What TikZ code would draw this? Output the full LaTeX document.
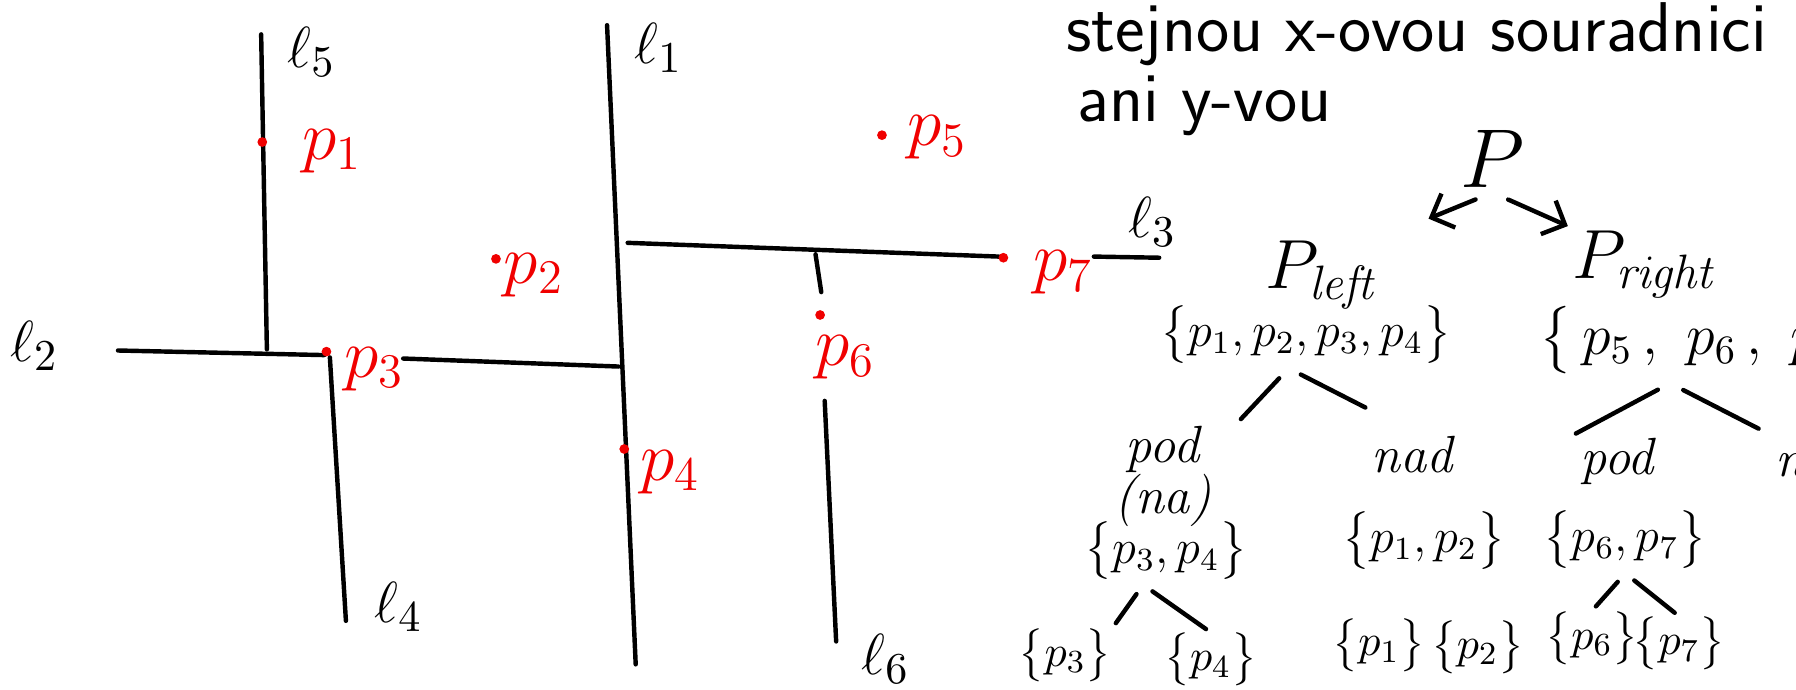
\documentclass[tikz,border=0pt]{standalone}
\usepackage{amsmath,amssymb}
\usetikzlibrary{positioning,arrows.meta,calc}
\definecolor{ink}{RGB}{0,0,0}
\definecolor{ptred}{RGB}{240,0,0}
\tikzset{
  seg/.style={draw=ink, line width=1.1pt, line cap=round},
  pdot/.style={circle, fill=ptred, inner sep=0pt, minimum size=0.85mm},
  plbl/.style={text=ptred, font=\fontsize{17}{17}\selectfont, inner sep=1pt},
  llbl/.style={text=ink, font=\fontsize{15}{15}\selectfont, inner sep=1pt},
  txt/.style={font=\sffamily\fontsize{17.5}{20}\selectfont, anchor=west, inner sep=0pt},
  tlbl/.style={font=\fontsize{17}{17}\selectfont, inner sep=1pt},
  pset/.style={font=\fontsize{12}{12}\selectfont, inner sep=1pt},
  leaf/.style={font=\fontsize{11}{11}\selectfont, inner sep=0pt},
  word/.style={font=\itshape\fontsize{13}{13}\selectfont, align=center, inner sep=1pt},
  arr/.style={-{Straight Barb[length=1.6mm, width=3.2mm]}, line width=1.1pt, line cap=round},
  tedge/.style={line width=1.1pt, line cap=round},
}
\begin{document}
\begin{tikzpicture}[x=0.1mm, y=-0.1mm]
  \useasboundingbox (0,0) rectangle (1568,602);

  % ---- lines of the subdivision ---------------------------------------
  \draw[seg] (228,30) -- (233,305);            % l5
  \draw[seg] (103,306) -- (283,310);           % l2
  \draw[seg] (352,313) -- (540,320);
  \draw[seg] (288,312) -- (302,542);           % l4
  \draw[seg] (530,22) -- (555,580);            % l1
  \draw[seg] (548,212) -- (872,224);           % l3
  \draw[seg] (955,224) -- (1012,225);
  \draw[seg] (712,222) -- (717,255);           % l6
  \draw[seg] (720,350) -- (730,560);

  \node[llbl] (l5) at (272,45)  {$\ell_5$};
  \node[llbl] (l1) at (575,42)  {$\ell_1$};
  \node[llbl] (l2) at (30,302)  {$\ell_2$};
  \node[llbl] (l3) at (1006,194) {$\ell_3$};
  \node[llbl] (l4) at (348,530) {$\ell_4$};
  \node[llbl] (l6) at (773,575) {$\ell_6$};

  % ---- points ---------------------------------------------------------
  \node[pdot] (d1) at (229,124) {};
  \node[pdot] (d2) at (433,226) {};
  \node[pdot] (d3) at (285,307) {};
  \node[pdot] (d4) at (545,392) {};
  \node[pdot] (d5) at (770,118) {};
  \node[pdot] (d6) at (716,275) {};
  \node[pdot] (d7) at (876,225) {};
  \node[plbl] (p1) at (290,132) {$p_1$};
  \node[plbl] (p2) at (466,240) {$p_2$};
  \node[plbl] (p3) at (327,322) {$p_3$};
  \node[plbl] (p4) at (585,412) {$p_4$};
  \node[plbl] (p5) at (818,120) {$p_5$};
  \node[plbl] (p6) at (738,312) {$p_6$};
  \node[plbl] (p7) at (928,238) {$p_7$};

  % ---- note -----------------------------------------------------------
  \node[txt] (n1) at (930,30) {stejnou x-ovou souradnici};
  \node[txt] (n2) at (940,92) {ani y-vou};

  % ---- tree -----------------------------------------------------------
  \node[tlbl, font=\fontsize{20}{20}\selectfont] (P) at (1303,139) {$P$};
  \node[tlbl] (Pl) at (1155,240) {$P_{\mathit{left}}$};
  \node[tlbl] (Pr) at (1437,231) {$P_{\mathit{right}}$};
  \node[pset] (lset) at (1140,292) {$\bigl\{p_1,p_2,p_3,p_4\bigr\}$};
  \node[pset, font=\fontsize{14}{14}\selectfont, anchor=west] (rset) at (1340,297)
    {$\bigl\{\,p_5\,,\ p_6\,,\ p_7\,\bigr\}$};
  \node[word, font=\itshape\fontsize{13}{12.5}\selectfont] (podl) at (1015,416) {pod\\(na)};
  \node[word] (nadl) at (1233,397) {nad};
  \node[word] (podr) at (1412,403) {pod};
  \node[word, anchor=west] (nadr) at (1546,400) {nad};
  \node[pset] (s34) at (1018,481) {$\bigl\{p_3,p_4\bigr\}$};
  \node[pset] (s12) at (1243,472) {$\bigl\{p_1,p_2\bigr\}$};
  \node[pset] (s67) at (1419,471) {$\bigl\{p_6,p_7\bigr\}$};
  \node[leaf] (s3) at (930,572)  {$\bigl\{p_3\bigr\}$};
  \node[leaf] (s4) at (1057,576) {$\bigl\{p_4\bigr\}$};
  \node[leaf] (s1) at (1204,563) {$\bigl\{p_1\bigr\}$};
  \node[leaf] (s2) at (1290,565) {$\bigl\{p_2\bigr\}$};
  \node[leaf] (s6) at (1390,557) {$\bigl\{p_6\bigr\}$};
  \node[leaf] (s7) at (1466,562) {$\bigl\{p_7\bigr\}$};

  \coordinate (lfork) at ([xshift=-1.5mm]lset.south);
  \coordinate (rfork) at ([xshift=11.8mm,yshift=-0.3mm]rset.south west);
  \coordinate (mfork) at ([xshift=-2mm]s34.south);

  \draw[arr, shorten <=1.6mm, shorten >=4.1mm] (P.south) -- (Pl.north east);
  \draw[arr, shorten <=1.5mm] (P.south) -- (Pr.north west);
  \draw[tedge, shorten <=1.2mm, shorten >=3.2mm] (lfork) -- (podl.30);
  \draw[tedge, shorten <=1.2mm, shorten >=4.6mm] (lfork) -- (nadl.north);
  \draw[tedge, shorten <=1.2mm] (rfork) -- (podr.north west);
  \draw[tedge, shorten <=1.3mm, shorten >=1.2mm] (rfork) -- (nadr.north west);
  \draw[tedge, shorten <=1mm, shorten >=0.5mm] (mfork) -- (s3.north east);
  \draw[tedge, shorten <=1mm, shorten >=0.5mm] (mfork) -- (s4.north);
  \draw[tedge, shorten <=1mm, shorten >=0.5mm] (s67.south) -- (s6.north);
  \draw[tedge, shorten <=1mm, shorten >=0.5mm] (s67.south) -- (s7.north);
\end{tikzpicture}
\end{document}
